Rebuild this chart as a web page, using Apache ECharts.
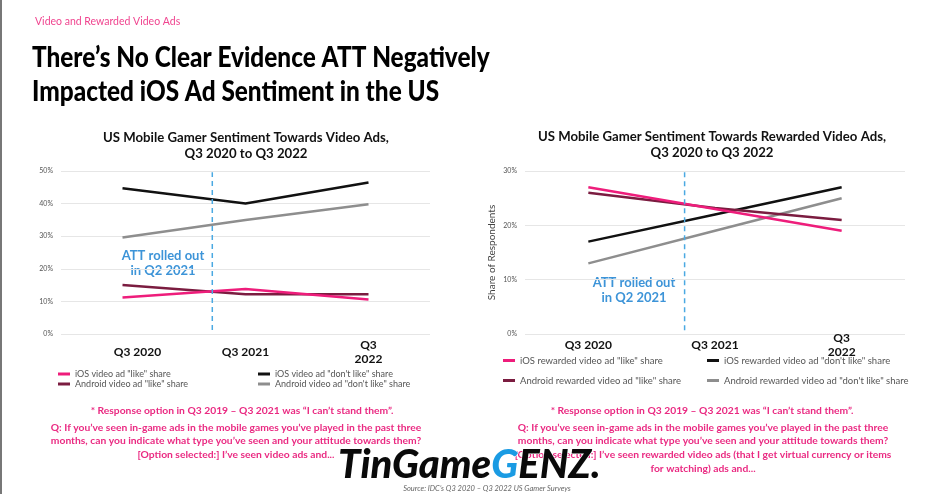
<!DOCTYPE html>
<html><head><meta charset="utf-8">
<script src="https://cdn.jsdelivr.net/npm/echarts@6/dist/echarts.min.js"></script>
<style>html,body{margin:0;padding:0;background:#fff}#c{width:940px;height:494px}</style>
</head><body><div id="c"></div>
<script>
var categories = ['Q3 2020', 'Q3 2021', 'Q3\n2022'];
var yTicksLeft = [0, 10, 20, 30, 40, 50];
var yTicksRight = [0, 10, 20, 30];

// Left chart: Video ads (% share)
var iosVideoLike = [11.2, 13.8, 10.6];
var androidVideoLike = [15.0, 12.2, 12.2];
var iosVideoDislike = [44.7, 40.0, 46.5];
var androidVideoDislike = [29.6, 35.0, 39.8];

// Right chart: Rewarded video ads (% share)
var iosRewardedLike = [27.0, 23.0, 19.0];
var androidRewardedLike = [26.0, 23.2, 21.0];
var iosRewardedDislike = [17.0, 22.0, 27.0];
var androidRewardedDislike = [13.0, 19.0, 25.0];

// ATT rollout (Q2 2021) position between categories
var attPosLeft = 0.73;
var attPosRight = 0.76;

var FONT = 'Lato, "Noto Sans", sans-serif';
var C_PINK = '#ee1d7b', C_MAROON = '#7b1c40', C_BLACK = '#111111', C_GRAY = '#8e8e8e';
var C_BLUE = '#3d94d8', C_NOTE = '#ea2a82';

var chart = echarts.init(document.getElementById('c'), null, {renderer: 'canvas'});

function catAxis(gi, margin, firstPad) {
  return {
    type: 'category', gridIndex: gi, data: categories, boundaryGap: true,
    axisLine: {show: false}, axisTick: {show: false},
    axisLabel: {
      interval: 0, margin: margin, verticalAlign: 'middle',
      fontFamily: FONT, fontWeight: 'bold', fontSize: 12, color: '#111', lineHeight: 14,
      formatter: function (v, i) { return i === 0 ? '{f|' + v + '}' : v; },
      rich: {f: {padding: [0, 0, 0, firstPad], fontFamily: FONT, fontWeight: 'bold', fontSize: 12, color: '#111'}}
    }
  };
}
function valAxis(gi, max, name) {
  return {
    type: 'value', gridIndex: gi, min: 0, max: max, interval: 10,
    name: name || '', nameLocation: 'middle', nameGap: 28, nameRotate: 90,
    nameTextStyle: {fontFamily: FONT, fontSize: 10, color: '#444'},
    axisLine: {show: false}, axisTick: {show: false},
    axisLabel: {formatter: '{value}%', fontFamily: FONT, fontSize: 7, color: '#555', margin: 8},
    splitLine: {lineStyle: {color: '#e6e6e6', width: 1}}
  };
}
function hiddenX(gi) {
  return {type: 'value', gridIndex: gi, min: -0.5, max: 2.5, show: false};
}
function hiddenY(gi, max) {
  return {type: 'value', gridIndex: gi, min: 0, max: max, show: false};
}
function lineSeries(name, data, color, xi, yi) {
  return {
    name: name, type: 'line', data: data, xAxisIndex: xi, yAxisIndex: yi,
    symbol: 'none', smooth: false, silent: true,
    lineStyle: {color: color, width: 2.5}, itemStyle: {color: color}
  };
}
function dashSeries(pos, y0, y1, xi, yi) {
  return {
    type: 'line', xAxisIndex: xi, yAxisIndex: yi, symbol: 'none', silent: true,
    data: [[pos, y0], [pos, y1]],
    lineStyle: {color: '#4aa9e2', width: 1.5, type: [5, 4]}
  };
}
function legendBlock(names, left, top, fontSize, lineHeight, gap) {
  return {
    orient: 'vertical', left: left, top: top, data: names, icon: 'rect',
    itemWidth: 12, itemHeight: 3, itemGap: gap, selectedMode: false, padding: 0,
    textStyle: {fontFamily: FONT, fontSize: fontSize, color: '#555', lineHeight: lineHeight}
  };
}
function txt(x, y, text, font, color, align, extra) {
  var s = {text: text, x: 0, y: 0, font: font, fill: color, textAlign: align || 'left', textVerticalAlign: 'middle'};
  var el = {type: 'text', x: x, y: y, style: s, silent: true};
  if (extra) for (var k in extra) el[k] = extra[k];
  return el;
}

var nLeft = ['iOS video ad "like" share', 'Android video ad "like" share',
             'iOS video ad "don\'t like" share', 'Android video ad "don\'t like" share'];
var nRight = ['iOS rewarded video ad "like" share', 'Android rewarded video ad "like" share',
              'iOS rewarded video ad "don\'t like" share', 'Android rewarded video ad "don\'t like" share'];

var option = {
  animation: false,
  backgroundColor: '#ffffff',
  grid: [
    {left: 61, width: 369, top: 171, height: 163},
    {left: 525, width: 380, top: 171, height: 163}
  ],
  xAxis: [catAxis(0, 18, 30), catAxis(1, 11, 0), hiddenX(0), hiddenX(1)],
  yAxis: [valAxis(0, 50), valAxis(1, 30, 'Share of Respondents'), hiddenY(0, 50), hiddenY(1, 30)],
  legend: [
    legendBlock([nLeft[0], nLeft[1]], 58, 369, 9, 10, 0),
    legendBlock([nLeft[2], nLeft[3]], 258, 369, 9, 10, 0),
    legendBlock([nRight[0], nRight[1]], 503, 355, 9.5, 11, 9),
    legendBlock([nRight[2], nRight[3]], 707, 355, 9.5, 11, 9)
  ],
  series: [
    lineSeries(nLeft[3], androidVideoDislike, C_GRAY, 0, 0),
    lineSeries(nLeft[2], iosVideoDislike, C_BLACK, 0, 0),
    lineSeries(nLeft[1], androidVideoLike, C_MAROON, 0, 0),
    lineSeries(nLeft[0], iosVideoLike, C_PINK, 0, 0),
    dashSeries(attPosLeft, 1.2, 49.6, 2, 2),
    lineSeries(nRight[3], androidRewardedDislike, C_GRAY, 1, 1),
    lineSeries(nRight[2], iosRewardedDislike, C_BLACK, 1, 1),
    lineSeries(nRight[1], androidRewardedLike, C_MAROON, 1, 1),
    lineSeries(nRight[0], iosRewardedLike, C_PINK, 1, 1),
    dashSeries(attPosRight, 0.7, 29.8, 3, 3)
  ],
  graphic: [
    {type: 'rect', shape: {x: 0, y: 0, width: 2, height: 494}, style: {fill: '#777'}, silent: true},
    txt(35, 22, 'Video and Rewarded Video Ads', '10.5px ' + FONT, '#f0448f'),
    txt(32, 58, 'There\u2019s No Clear Evidence ATT Negatively', '900 28px ' + FONT, '#000', 'left', {scaleX: 0.87}),
    txt(32, 92, 'Impacted iOS Ad Sentiment in the US', '900 28px ' + FONT, '#000', 'left', {scaleX: 0.87}),
    txt(246, 138, 'US Mobile Gamer Sentiment Towards Video Ads,', 'bold 13.2px ' + FONT, '#111', 'center'),
    txt(246, 154, 'Q3 2020 to Q3 2022', 'bold 13.2px ' + FONT, '#111', 'center'),
    txt(712, 137, 'US Mobile Gamer Sentiment Towards Rewarded Video Ads,', 'bold 13.2px ' + FONT, '#111', 'center'),
    txt(712, 153, 'Q3 2020 to Q3 2022', 'bold 13.2px ' + FONT, '#111', 'center'),
    txt(163, 256, 'ATT rolled out', 'bold 13px ' + FONT, C_BLUE, 'center'),
    txt(163, 271, 'in Q2 2021', 'bold 13px ' + FONT, C_BLUE, 'center'),
    txt(634, 283, 'ATT rolled out', 'bold 13px ' + FONT, C_BLUE, 'center'),
    txt(634, 298, 'in Q2 2021', 'bold 13px ' + FONT, C_BLUE, 'center'),
    txt(242, 411, '* Response option in Q3 2019 \u2013 Q3 2021 was \u201cI can\u2019t stand them\u201d.', 'bold 10.3px ' + FONT, C_NOTE, 'center'),
    txt(236, 428, 'Q: If you\u2019ve seen in-game ads in the mobile games you\u2019ve played in the past three', 'bold 10.3px ' + FONT, C_NOTE, 'center'),
    txt(236, 441, 'months, can you indicate what type you\u2019ve seen and your attitude towards them?', 'bold 10.3px ' + FONT, C_NOTE, 'center'),
    txt(236, 455, '[Option selected:] I\u2019ve seen video ads and...', 'bold 10.3px ' + FONT, C_NOTE, 'center'),
    txt(702, 411, '* Response option in Q3 2019 \u2013 Q3 2021 was \u201cI can\u2019t stand them\u201d.', 'bold 10.3px ' + FONT, C_NOTE, 'center'),
    txt(703, 428, 'Q: If you\u2019ve seen in-game ads in the mobile games you\u2019ve played in the past three', 'bold 10.3px ' + FONT, C_NOTE, 'center'),
    txt(703, 441, 'months, can you indicate what type you\u2019ve seen and your attitude towards them?', 'bold 10.3px ' + FONT, C_NOTE, 'center'),
    txt(703, 455, '[Option selected:] I\u2019ve seen rewarded video ads (that I get virtual currency or items', 'bold 10.3px ' + FONT, C_NOTE, 'center'),
    txt(703, 469, 'for watching) ads and...', 'bold 10.3px ' + FONT, C_NOTE, 'center'),
    txt(487, 489, 'Source: IDC\u2019s Q3 2020 \u2013 Q3 2022 US Gamer Surveys', 'italic 7.5px ' + FONT, '#666', 'center'),
    {type: 'text', silent: true, x: 338, y: 465, style: {
      x: 0, y: 0, textVerticalAlign: 'middle',
      text: '{a|TinGame}{b|G}{a|ENZ.}',
      rich: {
        a: {font: 'italic 900 40px ' + FONT, fill: '#0a0a0a', stroke: '#fff', lineWidth: 1},
        b: {font: 'italic 900 40px ' + FONT, fill: '#1a9be3', stroke: '#fff', lineWidth: 1}
      }
    }}
  ]
};
chart.setOption(option);
</script>
</body></html>
